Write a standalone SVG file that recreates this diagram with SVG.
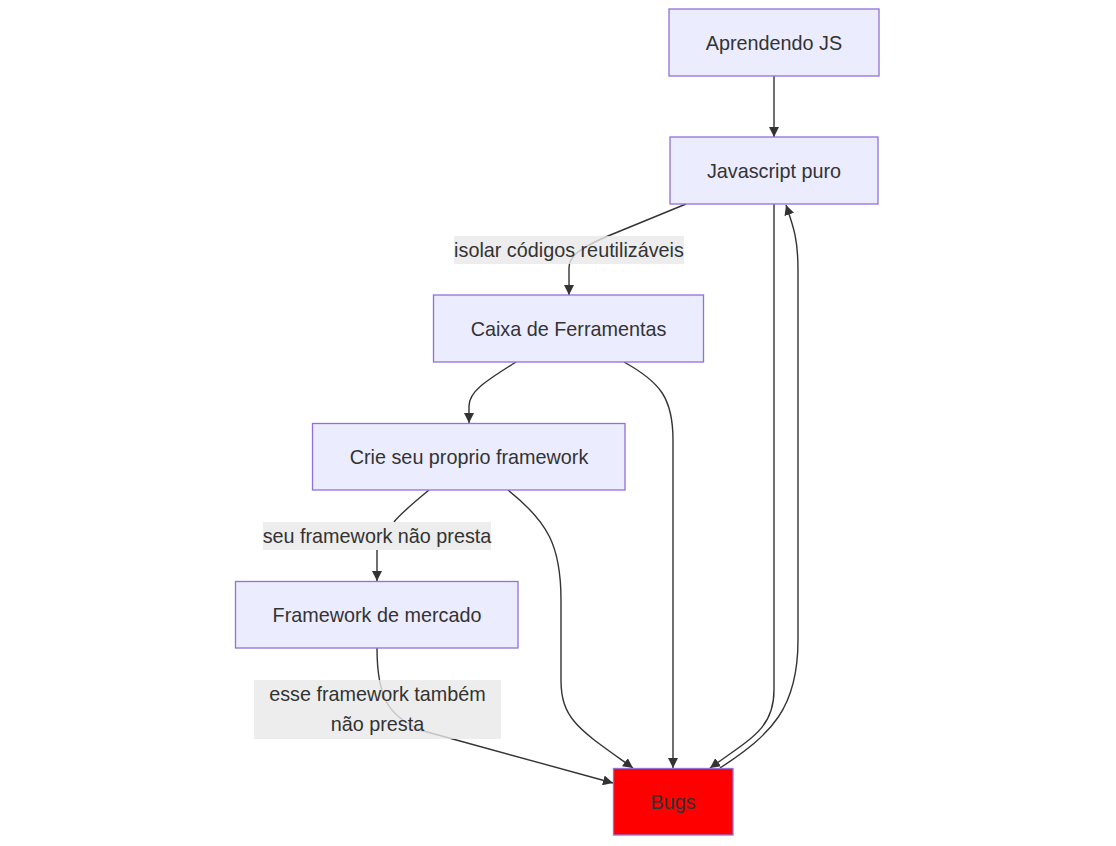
<svg xmlns="http://www.w3.org/2000/svg" width="1116" height="846" viewBox="0 0 1116 846">
<defs>
<style>
.node rect{fill:#ECECFF;stroke:#9370DB;stroke-width:1.3}
.node.bug rect{fill:#FF0000}
text{font-family:"Liberation Sans",Arial,sans-serif;font-size:19.8px;fill:#333;text-anchor:middle;dominant-baseline:central}
.edge{fill:none;stroke:#333;stroke-width:1.4}
.lbl rect{fill:rgba(232,232,232,0.8);stroke:none}
</style>
<marker id="ah" viewBox="0 0 10 10" refX="10" refY="5" markerWidth="10" markerHeight="10" markerUnits="userSpaceOnUse" orient="auto">
<path d="M0,0 L10,5 L0,10 z" fill="#333"/>
</marker>
</defs>
<rect width="1116" height="846" fill="#fff"/>
<g id="connectors">
<path class="edge" d="M774,76 L774,137" marker-end="url(#ah)"/>
<path class="edge" d="M686,204 L608,236 C580,248 569,256 569,268 L569,295" marker-end="url(#ah)"/>
<path class="edge" d="M516,362 C484,382 469,392 469,406 L469,423" marker-end="url(#ah)"/>
<path class="edge" d="M624,362 C660,382 673,398 673,440 L673,768" marker-end="url(#ah)"/>
<path class="edge" d="M774,204 L774,690 C774,728 752,738 710,768" marker-end="url(#ah)"/>
<path class="edge" d="M720,768 C772,734 798,708 798,640 L798,270 C798,240 794,228 786,205" marker-end="url(#ah)"/>
<path class="edge" d="M429,490 C410,506 400,514 394,522 M377,550 L377,581" marker-end="url(#ah)"/>
<path class="edge" d="M508,490 C548,522 561,546 561,600 L561,680 C561,720 580,730 633,768" marker-end="url(#ah)"/>
<path class="edge" d="M377,648 C377,700 390,716 420,730 L613,783" marker-end="url(#ah)"/>
</g>
<g id="label-isolar" class="lbl"><rect x="454" y="236" width="230" height="28"/><text x="569" y="250">isolar códigos reutilizáveis</text></g>
<g id="label-seu" class="lbl"><rect x="263" y="522" width="228" height="28"/><text x="377" y="536">seu framework não presta</text></g>
<g id="label-esse" class="lbl"><rect x="254" y="680" width="247" height="59"/><text x="377.5" y="694">esse framework também</text><text x="377.5" y="724">não presta</text></g>
<g id="aprendendo" class="node"><rect x="669" y="9" width="210" height="67"/><text x="774" y="42.5">Aprendendo JS</text></g>
<g id="javascript" class="node"><rect x="670" y="137" width="208" height="67"/><text x="774" y="170.5">Javascript puro</text></g>
<g id="caixa" class="node"><rect x="433.5" y="295" width="270" height="67"/><text x="568.5" y="328.5">Caixa de Ferramentas</text></g>
<g id="crie" class="node"><rect x="312.5" y="423.5" width="312.5" height="66.5"/><text x="469" y="456.5">Crie seu proprio framework</text></g>
<g id="mercado" class="node"><rect x="235.5" y="581.5" width="282.5" height="66.5"/><text x="377" y="614.5">Framework de mercado</text></g>
<g id="bugs" class="node bug"><rect x="613.5" y="768.5" width="119.5" height="66.5"/><text x="673" y="802">Bugs</text></g>
</svg>
